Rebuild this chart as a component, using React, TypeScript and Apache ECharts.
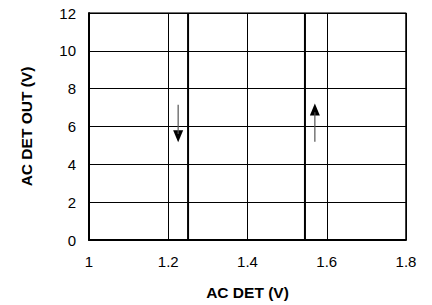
import React, { useEffect, useRef } from "react";
import * as echarts from "echarts";

const xTicks = [1, 1.2, 1.4, 1.6, 1.8];
const yTicks = [0, 2, 4, 6, 8, 10, 12];
const pathA: [number, number][] = [[1, 0], [1.545, 0], [1.545, 12]];
const pathB: [number, number][] = [[1.25, 0], [1.25, 12]];
const downShaft: [number, number][] = [[1.225, 7.15], [1.225, 5.6]];
const downHead: [number, number][] = [[1.225, 5.48]];
const upShaft: [number, number][] = [[1.57, 5.2], [1.57, 6.75]];
const upHead: [number, number][] = [[1.57, 6.9]];

export default function App() {
  const ref = useRef<HTMLDivElement>(null);
  useEffect(() => {
    const chart = echarts.init(ref.current!, null, { renderer: "svg" });
    const font = "'Liberation Sans', Arial, Helvetica, sans-serif";
    const shaft = (pts: [number, number][]) => ({
      type: "line",
      data: pts,
      showSymbol: false,
      silent: true,
      lineStyle: { color: "#555", width: 1.2 },
    });
    const head = (pts: [number, number][], rot: number) => ({
      type: "scatter",
      data: pts,
      symbol: "triangle",
      symbolSize: [10, 12],
      symbolRotate: rot,
      silent: true,
      itemStyle: { color: "#000", opacity: 1 },
    });
    chart.setOption({
      animation: false,
      backgroundColor: "#fff",
      grid: { left: 89, right: 26, top: 13, bottom: 65 },
      xAxis: {
        type: "value",
        min: xTicks[0],
        max: xTicks[xTicks.length - 1],
        interval: 0.2,
        name: "AC DET (V)",
        nameLocation: "middle",
        nameGap: 44,
        nameTextStyle: { fontFamily: font, fontSize: 15.5, fontWeight: "bold", color: "#000" },
        axisLine: { show: true, onZero: false, lineStyle: { color: "#000", width: 2 } },
        axisTick: { show: false },
        axisLabel: { fontFamily: font, fontSize: 15, color: "#000", margin: 14 },
        splitLine: { show: true, lineStyle: { color: "#000", width: 1 } },
      },
      yAxis: {
        type: "value",
        min: yTicks[0],
        max: yTicks[yTicks.length - 1],
        interval: 2,
        name: "AC DET OUT (V)",
        nameLocation: "middle",
        nameGap: 55,
        nameTextStyle: { fontFamily: font, fontSize: 15.5, fontWeight: "bold", color: "#000" },
        axisLine: { show: true, lineStyle: { color: "#000", width: 2 } },
        axisTick: { show: false },
        axisLabel: { fontFamily: font, fontSize: 15, color: "#000", margin: 13 },
        splitLine: { show: true, lineStyle: { color: "#000", width: 1 } },
      },
      series: [
        {
          type: "line",
          data: pathA,
          showSymbol: false,
          lineStyle: { color: "#000", width: 2 },
        },
        {
          type: "line",
          data: pathB,
          showSymbol: false,
          lineStyle: { color: "#000", width: 2 },
        },
        {
          type: "line",
          data: [[1, 12], [1.8, 12], [1.8, 0]],
          showSymbol: false,
          lineStyle: { color: "#000", width: 1.5 },
        },
        shaft(downShaft),
        head(downHead, 180),
        shaft(upShaft),
        head(upHead, 0),
      ],
    });
    return () => chart.dispose();
  }, []);
  return (
    <div
      ref={ref}
      style={{ position: "fixed", left: 0, top: 0, width: 432, height: 305 }}
    />
  );
}
